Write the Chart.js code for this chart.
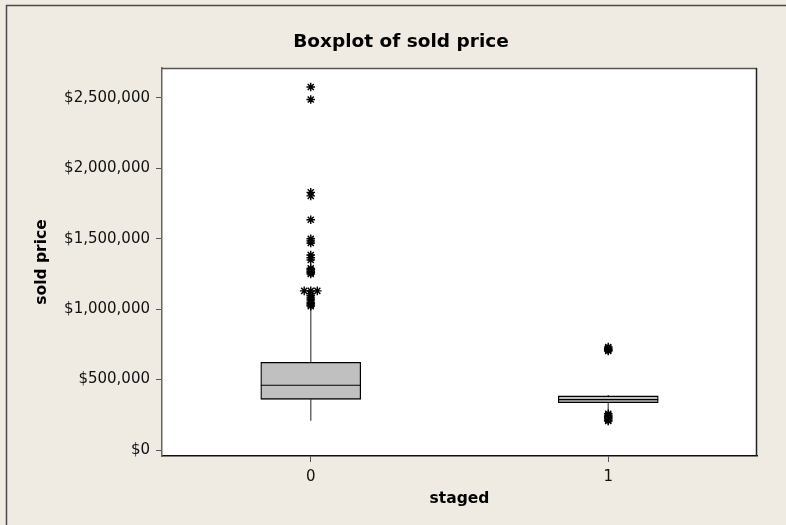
<!DOCTYPE html>
<html>
<head>
<meta charset="utf-8">
<script src="https://cdn.jsdelivr.net/npm/chart.js@4.4.1/dist/chart.umd.min.js"></script>
<style>
  html, body { margin: 0; padding: 0; background: #efebe2; }
  canvas { display: block; }
</style>
</head>
<body>
<canvas id="box" width="786" height="525"></canvas>
<script>
// boxplot summary per "staged" group
const categories = ['0', '1'];
const q1 = [360000, 336000];
const median = [460000, 358000];
const q3 = [623000, 384000];
const whiskerLow = [208000, 285000];
const whiskerHigh = [1010000, 390000];

// outliers
const outliers0 = [2578000, 2489000, 1830000, 1805000, 1635000, 1500000, 1485000, 1470000,
    1385000, 1365000, 1350000, 1290000, 1280000, 1270000, 1260000, 1250000,
    1130000, 1130000, 1130000, 1110000, 1095000, 1080000, 1065000, 1050000,
    1040000, 1030000, 1022000];
const outliers1 = [731000, 722000, 715000, 708000, 703000,
    258000, 248000, 240000, 232000, 222000, 212000, 206000];

const yTicks = [0, 500000, 1000000, 1500000, 2000000, 2500000];

const BG = '#efebe2';
const HALF_BOX = 0.168; // half box width in x units (box is 100px wide)

function boxData() {
    return categories.map((c, i) => ({ x: i, y: [q1[i], q3[i]] }));
}

function medianData() {
    const pts = [];
    categories.forEach((c, i) => {
        pts.push({ x: i - HALF_BOX, y: median[i] });
        pts.push({ x: i + HALF_BOX, y: median[i] });
        pts.push({ x: i, y: null });
    });
    return pts;
}

function whiskerData() {
    const pts = [];
    categories.forEach((c, i) => {
        pts.push({ x: i, y: q3[i] }, { x: i, y: whiskerHigh[i] }, { x: i, y: null });
        pts.push({ x: i, y: q1[i] }, { x: i, y: whiskerLow[i] }, { x: i, y: null });
    });
    return pts;
}

// equal values are spread sideways like minitab does
function outlierData() {
    const pts = [];
    [outliers0, outliers1].forEach((vals, i) => {
        const counts = {};
        vals.forEach(v => { counts[v] = (counts[v] || 0) + 1; });
        const seen = {};
        vals.forEach(v => {
            const n = counts[v];
            const k = seen[v] || 0;
            seen[v] = k + 1;
            pts.push({ x: i + (k - (n - 1) / 2) * 0.022, y: v });
        });
    });
    return pts;
}

const framePlugin = {
    id: 'frame',
    beforeDraw(chart) {
        const { ctx, chartArea: a } = chart;
        ctx.save();
        ctx.fillStyle = BG;
        ctx.fillRect(0, 0, chart.width, chart.height);
        ctx.strokeStyle = '#4a4a4a';
        ctx.lineWidth = 1.5;
        ctx.beginPath();
        ctx.moveTo(6.5, chart.height);
        ctx.lineTo(6.5, 5.5);
        ctx.lineTo(chart.width, 5.5);
        ctx.stroke();
        ctx.fillStyle = '#ffffff';
        ctx.fillRect(a.left, a.top, a.right - a.left, a.bottom - a.top);
        ctx.restore();
    },
    afterDraw(chart) {
        const { ctx, chartArea: a } = chart;
        ctx.save();
        ctx.lineWidth = 1.5;
        ctx.strokeStyle = '#555';
        ctx.beginPath();
        ctx.moveTo(a.left, a.top + 0.5);
        ctx.lineTo(a.right, a.top + 0.5);
        ctx.stroke();
        ctx.strokeStyle = '#222';
        ctx.beginPath();
        ctx.moveTo(a.right - 0.5, a.top);
        ctx.lineTo(a.right - 0.5, a.bottom);
        ctx.stroke();
        ctx.restore();
    }
};

const tickFont = { family: 'DejaVu Sans', size: 15 };
const labelFont = { family: 'DejaVu Sans', size: 15.5, weight: 'bold' };

new Chart(document.getElementById('box').getContext('2d'), {
    type: 'bar',
    data: {
        datasets: [
            {
                type: 'scatter',
                data: outlierData(),
                pointStyle: 'star',
                pointRadius: 4.3,
                borderColor: '#000',
                backgroundColor: '#000',
                borderWidth: 1.4,
                order: 1
            },
            {
                type: 'line',
                data: medianData(),
                borderColor: '#000',
                borderWidth: 1.2,
                pointRadius: 0,
                spanGaps: false,
                order: 2
            },
            {
                type: 'bar',
                data: boxData(),
                backgroundColor: '#c0c0c0',
                borderColor: '#000',
                borderWidth: 1.3,
                borderSkipped: false,
                barThickness: 100,
                order: 3
            },
            {
                type: 'line',
                data: whiskerData(),
                borderColor: '#6a6a6a',
                borderWidth: 1.5,
                pointRadius: 0,
                spanGaps: false,
                order: 4
            }
        ]
    },
    options: {
        responsive: false,
        animation: false,
        layout: { padding: { left: 16, right: 0, top: 0, bottom: 0 } },
        plugins: {
            legend: { display: false },
            tooltip: { enabled: false },
            title: {
                display: true,
                text: 'Boxplot of sold price',
                color: '#000',
                font: { family: 'DejaVu Sans', size: 18.5, weight: 'bold' },
                padding: { top: 30.9, bottom: 14.9 }
            }
        },
        scales: {
            x: {
                type: 'linear',
                min: -0.5,
                max: 1.5,
                offset: false,
                afterFit(s) { s.height = 69; },
                afterBuildTicks(s) { s.ticks = categories.map((c, i) => ({ value: i })); },
                ticks: {
                    color: '#111',
                    font: tickFont,
                    padding: 6,
                    maxRotation: 0,
                    callback: v => categories[v]
                },
                grid: { drawOnChartArea: false, drawTicks: true, tickLength: 6, color: '#555', offset: false },
                border: { display: true, color: '#111', width: 1.5 },
                title: {
                    display: true,
                    text: 'staged',
                    color: '#000',
                    font: labelFont,
                    padding: { top: 0, bottom: 17 }
                }
            },
            y: {
                type: 'linear',
                min: -42600,
                max: 2713000,
                afterFit(s) { s.width = 146; },
                afterBuildTicks(s) { s.ticks = yTicks.map(v => ({ value: v })); },
                ticks: {
                    color: '#111',
                    font: tickFont,
                    padding: 6,
                    callback: v => '$' + v.toLocaleString('en-US')
                },
                grid: { drawOnChartArea: false, drawTicks: true, tickLength: 6, color: '#555' },
                border: { display: true, color: '#666', width: 1.5 },
                title: {
                    display: true,
                    text: 'sold price',
                    color: '#000',
                    font: labelFont,
                    padding: { top: 16.7, bottom: 0 }
                }
            },
            yR: {
                position: 'right',
                display: true,
                afterFit(s) { s.width = 29; },
                ticks: { display: false },
                grid: { display: false },
                border: { display: false }
            }
        }
    },
    plugins: [framePlugin]
});
</script>
</body>
</html>
